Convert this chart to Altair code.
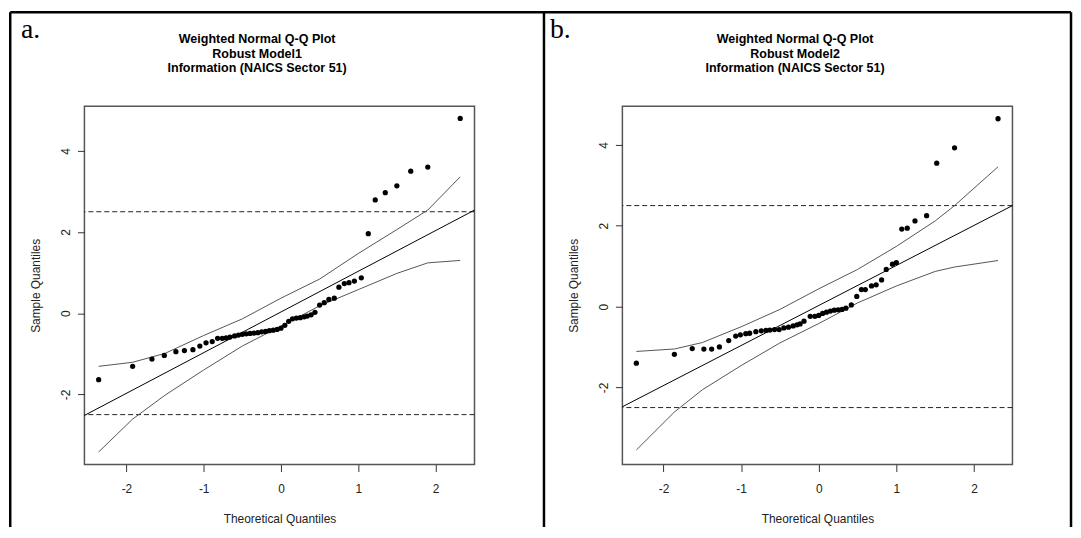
import altair as alt
import pandas as pd

# ---------------- values ----------------
# Panel a : Robust Model1
a_x = [-2.36, -1.92, -1.67, -1.51, -1.36, -1.25, -1.14, -1.05, -0.97, -0.89, -0.82,
       -0.76, -0.71, -0.66, -0.60, -0.55, -0.50, -0.45, -0.40, -0.35, -0.30, -0.25,
       -0.20, -0.15, -0.10, -0.05, 0.00,
       0.05, 0.10, 0.15, 0.20, 0.25, 0.30, 0.34, 0.39, 0.44,
       0.50, 0.56, 0.62, 0.69, 0.75, 0.82, 0.88, 0.95, 1.04, 1.13, 1.22, 1.35,
       1.50, 1.68, 1.90, 2.32]
a_y = [-1.64, -1.31, -1.13, -1.04, -0.95, -0.92, -0.90, -0.81, -0.73, -0.70, -0.62,
       -0.62, -0.61, -0.59, -0.56, -0.54, -0.52, -0.51, -0.50, -0.49, -0.48, -0.46,
       -0.45, -0.43, -0.42, -0.40, -0.37,
       -0.30, -0.20, -0.14, -0.12, -0.11, -0.09, -0.07, -0.04, 0.02,
       0.20, 0.26, 0.34, 0.37, 0.64, 0.73, 0.75, 0.79, 0.87, 1.96, 2.79, 2.97,
       3.14, 3.50, 3.60, 4.80]
a_env_x = [-2.36, -1.92, -1.5, -1.0, -0.5, 0.0, 0.5, 1.0, 1.5, 1.9, 2.32]
a_env_hi = [-1.31, -1.21, -0.99, -0.55, -0.14, 0.37, 0.84, 1.47, 2.06, 2.54, 3.36]
a_env_lo = [-3.42, -2.61, -2.02, -1.40, -0.81, -0.32, 0.18, 0.58, 0.98, 1.24, 1.30]
a_ref_x = [-2.544, 2.505]
a_ref_y = [-2.52, 2.54]
a_xdom = [-2.544, 2.505]
a_ydom = [-3.73, 5.10]

# Panel b : Robust Model2
b_x = [-2.35, -1.86, -1.63, -1.48, -1.38, -1.28, -1.16, -1.07, -1.01, -0.94,
       -0.89, -0.81, -0.74, -0.68, -0.63, -0.57, -0.51, -0.45, -0.39, -0.33,
       -0.28, -0.24, -0.19, -0.11, -0.05, 0.00, 0.05, 0.10, 0.15, 0.20,
       0.25, 0.30, 0.35, 0.42, 0.49, 0.55, 0.60, 0.68, 0.74, 0.81,
       0.87, 0.95, 1.00, 1.07, 1.14, 1.24, 1.39, 1.52, 1.75, 2.31]
b_y = [-1.40, -1.18, -1.04, -1.05, -1.05, -1.00, -0.84, -0.73, -0.70, -0.67,
       -0.66, -0.62, -0.60, -0.59, -0.58, -0.57, -0.57, -0.53, -0.51, -0.48,
       -0.45, -0.43, -0.36, -0.24, -0.24, -0.22, -0.17, -0.14, -0.11, -0.09,
       -0.08, -0.07, -0.04, 0.04, 0.25, 0.42, 0.42, 0.51, 0.54, 0.66,
       0.92, 1.05, 1.09, 1.92, 1.94, 2.12, 2.25, 3.55, 3.93, 4.65]
b_env_x = [-2.35, -1.86, -1.5, -1.0, -0.5, 0.0, 0.5, 1.0, 1.5, 1.75, 2.31]
b_env_hi = [-1.11, -1.05, -0.89, -0.50, -0.07, 0.44, 0.92, 1.49, 2.12, 2.50, 3.46]
b_env_lo = [-3.55, -2.61, -2.06, -1.46, -0.90, -0.42, 0.09, 0.51, 0.87, 0.98, 1.14]
b_ref_x = [-2.53, 2.496]
b_ref_y = [-2.48, 2.50]
b_xdom = [-2.53, 2.496]
b_ydom = [-3.91, 4.96]

cutoffs = [2.5, -2.5]
x_ticks = [-2, -1, 0, 1, 2]
y_ticks = [-2, 0, 2, 4]

main_title = "Weighted Normal Q-Q Plot"
sector_title = "Information (NAICS Sector 51)"
model_titles = ["Robust Model1", "Robust Model2"]
letters = ["a.", "b."]
x_title = "Theoretical Quantiles"
y_title = "Sample Quantiles"

# ---------------- layout / style ----------------
W, H = 393, 361
SANS = "Liberation Sans"
SERIF = "Liberation Serif"
BW = 2.5  # frame line width
BOTTOM = 424
PLAIN = "toString(datum.value)"  # hyphen-minus like the original


def txt(s, x, y, **kw):
    return alt.Chart(pd.DataFrame({"t": [s]})).mark_text(**kw).encode(
        text="t:N", x=alt.value(x), y=alt.value(y))


def rule(x, y, x2=None, y2=None):
    enc = dict(x=alt.value(x), y=alt.value(y))
    if x2 is not None:
        enc["x2"] = alt.value(x2)
    if y2 is not None:
        enc["y2"] = alt.value(y2)
    return alt.Chart(pd.DataFrame({"k": [0]})).mark_rule(
        color="black", strokeWidth=BW).encode(**enc)


def panel(px, py, ex, ehi, elo, rx, ry, xdom, ydom, model, letter, letter_x, frame):
    xs = alt.Scale(domain=xdom, nice=False, zero=False)
    ys = alt.Scale(domain=ydom, nice=False, zero=False)
    X = alt.X("x:Q", scale=xs, axis=alt.Axis(
        values=x_ticks, title=x_title, labelFlush=False, labelPadding=12.5,
        labelExpr=PLAIN,
        titleX=W / 2, titleY=58.5, titleAlign="center", titleBaseline="alphabetic"))
    Y = alt.Y("y:Q", scale=ys, axis=alt.Axis(
        values=y_ticks, title=y_title, labelAngle=270, labelAlign="center",
        labelBaseline="bottom", labelPadding=5, labelExpr=PLAIN,
        titleAngle=270, titleX=-45.3,
        titleY=H / 2, titleAlign="center", titleBaseline="alphabetic"))

    pts = pd.DataFrame({"x": px, "y": py})
    env = pd.DataFrame({"x": ex + ex, "y": ehi + elo,
                        "band": ["upper"] * len(ex) + ["lower"] * len(ex)})
    ref = pd.DataFrame({"x": rx, "y": ry})
    cut = pd.DataFrame({"y": cutoffs})

    tstyle = dict(font=SANS, fontSize=12.6, fontWeight="bold", align="center",
                  baseline="middle", color="black")
    layers = [
        alt.Chart(cut).mark_rule(color="#222", strokeDash=[5, 3], strokeWidth=1).encode(y=Y),
        alt.Chart(env).mark_line(color="#555", strokeWidth=1).encode(x=X, y=Y, detail="band:N"),
        alt.Chart(ref).mark_line(color="black", strokeWidth=1).encode(x=X, y=Y),
        alt.Chart(pts).mark_circle(color="black", size=28, opacity=1).encode(x=X, y=Y),
        txt(main_title, 174, -68, **tstyle),
        txt(model, 174, -53, **tstyle),
        txt(sector_title, 174, -38, **tstyle),
        txt(letter, letter_x, -68.5, font=SERIF, fontSize=28, align="left",
            baseline="alphabetic", color="black"),
    ] + frame
    return alt.layer(*layers).properties(width=W, height=H)


top_y = -96 + BW / 2
frame_a = [
    rule(-76 + BW / 2, top_y, x2=994),
    rule(-76 + BW / 2, top_y, y2=BOTTOM),
]
frame_b = [
    rule(-79, top_y, y2=BOTTOM),
    rule(452, top_y, y2=BOTTOM),
]

pa = panel(a_x, a_y, a_env_x, a_env_hi, a_env_lo, a_ref_x, a_ref_y, a_xdom, a_ydom,
           model_titles[0], letters[0], -64, frame_a)
pb = panel(b_x, b_y, b_env_x, b_env_hi, b_env_lo, b_ref_x, b_ref_y, b_xdom, b_ydom,
           model_titles[1], letters[1], -73, frame_b)

chart = alt.hconcat(pa, pb, spacing=149, bounds="flush").properties(
    padding=0, background="white"
).configure_view(
    stroke="#555", strokeWidth=1.5
).configure_axis(
    grid=False, domain=False, tickColor="#333", tickSize=7, tickWidth=1,
    labelFont=SANS, labelFontSize=12, labelColor="#222",
    titleFont=SANS, titleFontSize=12, titleFontWeight="normal", titleColor="#222"
)

chart.save("out.html", embed_options={"renderer": "svg", "actions": False})
